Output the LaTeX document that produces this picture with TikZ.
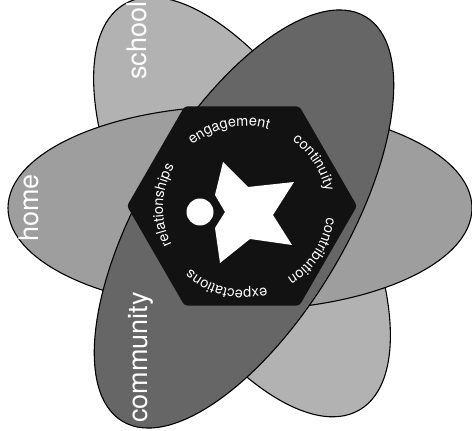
\documentclass[tikz,border=0pt]{standalone}
\usepackage{fontspec}
\setmainfont{TeX Gyre Heros}
\usetikzlibrary{decorations.text,shapes.geometric}
\definecolor{schoolc}{gray}{0.70}
\definecolor{homec}{gray}{0.62}
\definecolor{commc}{gray}{0.40}
\definecolor{hexc}{gray}{0.07}
\tikzset{
  ell/.style={draw=black, line width=1.1pt},
  biglabel/.style={text=white, font=\fontsize{27}{27}\selectfont, rotate=90, anchor=base west, inner sep=0pt},
  ringword/.style={decorate, decoration={text along path, text align=center,
      text={|\fontsize{14.5}{14.5}\selectfont\color{white}|#1}}}
}
\begin{document}
\begin{tikzpicture}[x=1pt,y=1pt]
\useasboundingbox (0,0) rectangle (472,431);
\clip (0,0) rectangle (472,431);
\fill[white] (0,0) rectangle (472,431);
% ellipses
\draw[ell, fill=schoolc, rotate around={-60:(242,224)}] (242,224) ellipse [x radius=234.5pt, y radius=105pt];
\draw[ell, fill=homec] (240,223) ellipse [x radius=232pt, y radius=102pt];
\draw[ell, fill=commc, rotate around={59:(244,212)}] (244,212) ellipse [x radius=236pt, y radius=102pt];
% hexagon
\node[regular polygon, regular polygon sides=6, minimum size=230pt, fill=hexc, rounded corners=3pt, inner sep=0pt] (hex) at (242,225) {};
% star and dot
\fill[white] (223,269) -- (248,244) -- (294,249) -- (273,216) -- (292,186) -- (250,192) -- (220,168) -- (215,203) -- (225,219) -- (215,236) -- cycle;
\node[circle, fill=white, minimum size=27pt, inner sep=0pt] (dot) at (200,219) {};
% ring words
\coordinate (rc) at (245,223);
\path[ringword=engagement] (rc) ++(146.6:82) arc[start angle=146.6, end angle=56.6, radius=82pt];
\path[ringword=continuity] (rc) ++(78.3:82) arc[start angle=78.3, end angle=-11.7, radius=82pt];
\path[ringword=contribution] (rc) ++(12.2:82) arc[start angle=12.2, end angle=-77.8, radius=82pt];
\path[ringword=expectations] (rc) ++(-58.4:82) arc[start angle=-58.4, end angle=-148.4, radius=82pt];
\path[ringword=relationships] (rc) ++(223:82) arc[start angle=223, end angle=133, radius=82pt];
% outer labels
\node[biglabel] (home) at (38,189) {home};
\node[biglabel] (school) at (146,351) {school};
\node[biglabel] (community) at (147,8) {community};
\end{tikzpicture}
\end{document}
